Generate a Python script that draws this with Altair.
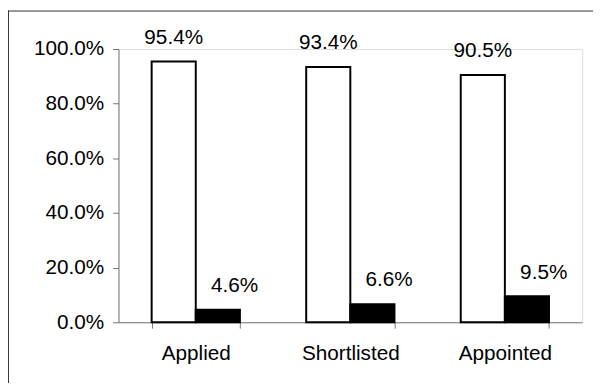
import altair as alt
import pandas as pd

categories = ["Applied", "Shortlisted", "Appointed"]
series_names = ["Series 1", "Series 2"]
series1_values = [0.954, 0.934, 0.905]
series2_values = [0.046, 0.066, 0.095]
y_ticks = [0.0, 0.2, 0.4, 0.6, 0.8, 1.0]

rows = []
for c, v1, v2 in zip(categories, series1_values, series2_values):
    rows.append({"category": c, "series": series_names[0], "value": v1})
    rows.append({"category": c, "series": series_names[1], "value": v2})
df = pd.DataFrame(rows)

FONT = "Liberation Sans"

x_enc = alt.X(
    "category:N",
    sort=categories,
    scale=alt.Scale(paddingInner=0.429, paddingOuter=0.2145),
    axis=alt.Axis(
        title=None,
        labelAngle=0,
        tickBand="extent",
        labelFontSize=21,
        labelFont=FONT,
        labelColor="#000000",
        labelPadding=15,
        tickSize=6,
        domainColor="#777777",
        tickColor="#777777",
        grid=False,
    ),
)
y_enc = alt.Y(
    "value:Q",
    scale=alt.Scale(domain=[0, 1], nice=False),
    axis=alt.Axis(
        title=None,
        values=y_ticks,
        format=".1%",
        labelFontSize=21,
        labelFont=FONT,
        labelColor="#000000",
        labelPadding=9,
        tickSize=6,
        domainColor="#777777",
        tickColor="#777777",
        grid=False,
    ),
)
xoff = alt.XOffset("series:N", sort=series_names, scale=alt.Scale(paddingInner=0, paddingOuter=0))

base = alt.Chart(df)

bars = base.mark_bar(stroke="#000000", strokeWidth=2).encode(
    x=x_enc,
    xOffset=xoff,
    y=y_enc,
    fill=alt.Fill(
        "series:N",
        scale=alt.Scale(domain=series_names, range=["#ffffff", "#000000"]),
        legend=None,
    ),
)

labels1 = base.transform_filter(alt.datum.series == series_names[0]).mark_text(
    font=FONT, fontSize=21, baseline="alphabetic", align="center", dy=-18, color="#000000"
).encode(
    x=alt.X("category:N", sort=categories),
    xOffset=xoff,
    y="value:Q",
    text=alt.Text("value:Q", format=".1%"),
)

labels2 = base.transform_filter(alt.datum.series == series_names[1]).mark_text(
    font=FONT, fontSize=21, baseline="alphabetic", align="center", dy=-18, dx=17, color="#000000"
).encode(
    x=alt.X("category:N", sort=categories),
    xOffset=xoff,
    y="value:Q",
    text=alt.Text("value:Q", format=".1%"),
)

one = alt.Chart(pd.DataFrame({"a": [0]}))
frame_top = one.mark_rule(stroke="#333333", strokeWidth=1).encode(
    x=alt.value(-112),
    x2=alt.value(700),
    y=alt.value(-38.5),
)
frame_left = one.mark_rule(stroke="#333333", strokeWidth=1).encode(
    x=alt.value(-111.5),
    y=alt.value(-39),
    y2=alt.value(600),
)

chart = alt.layer(frame_top, frame_left, bars, labels1, labels2).properties(
    width=470,
    height=277,
    autosize=alt.AutoSizeParams(type="none"),
    padding={"left": 112, "top": 39, "right": 11, "bottom": 59},
).configure_view(strokeWidth=0).configure(background="#ffffff")

chart.save("out.html", embed_options={"renderer": "svg", "actions": False})
